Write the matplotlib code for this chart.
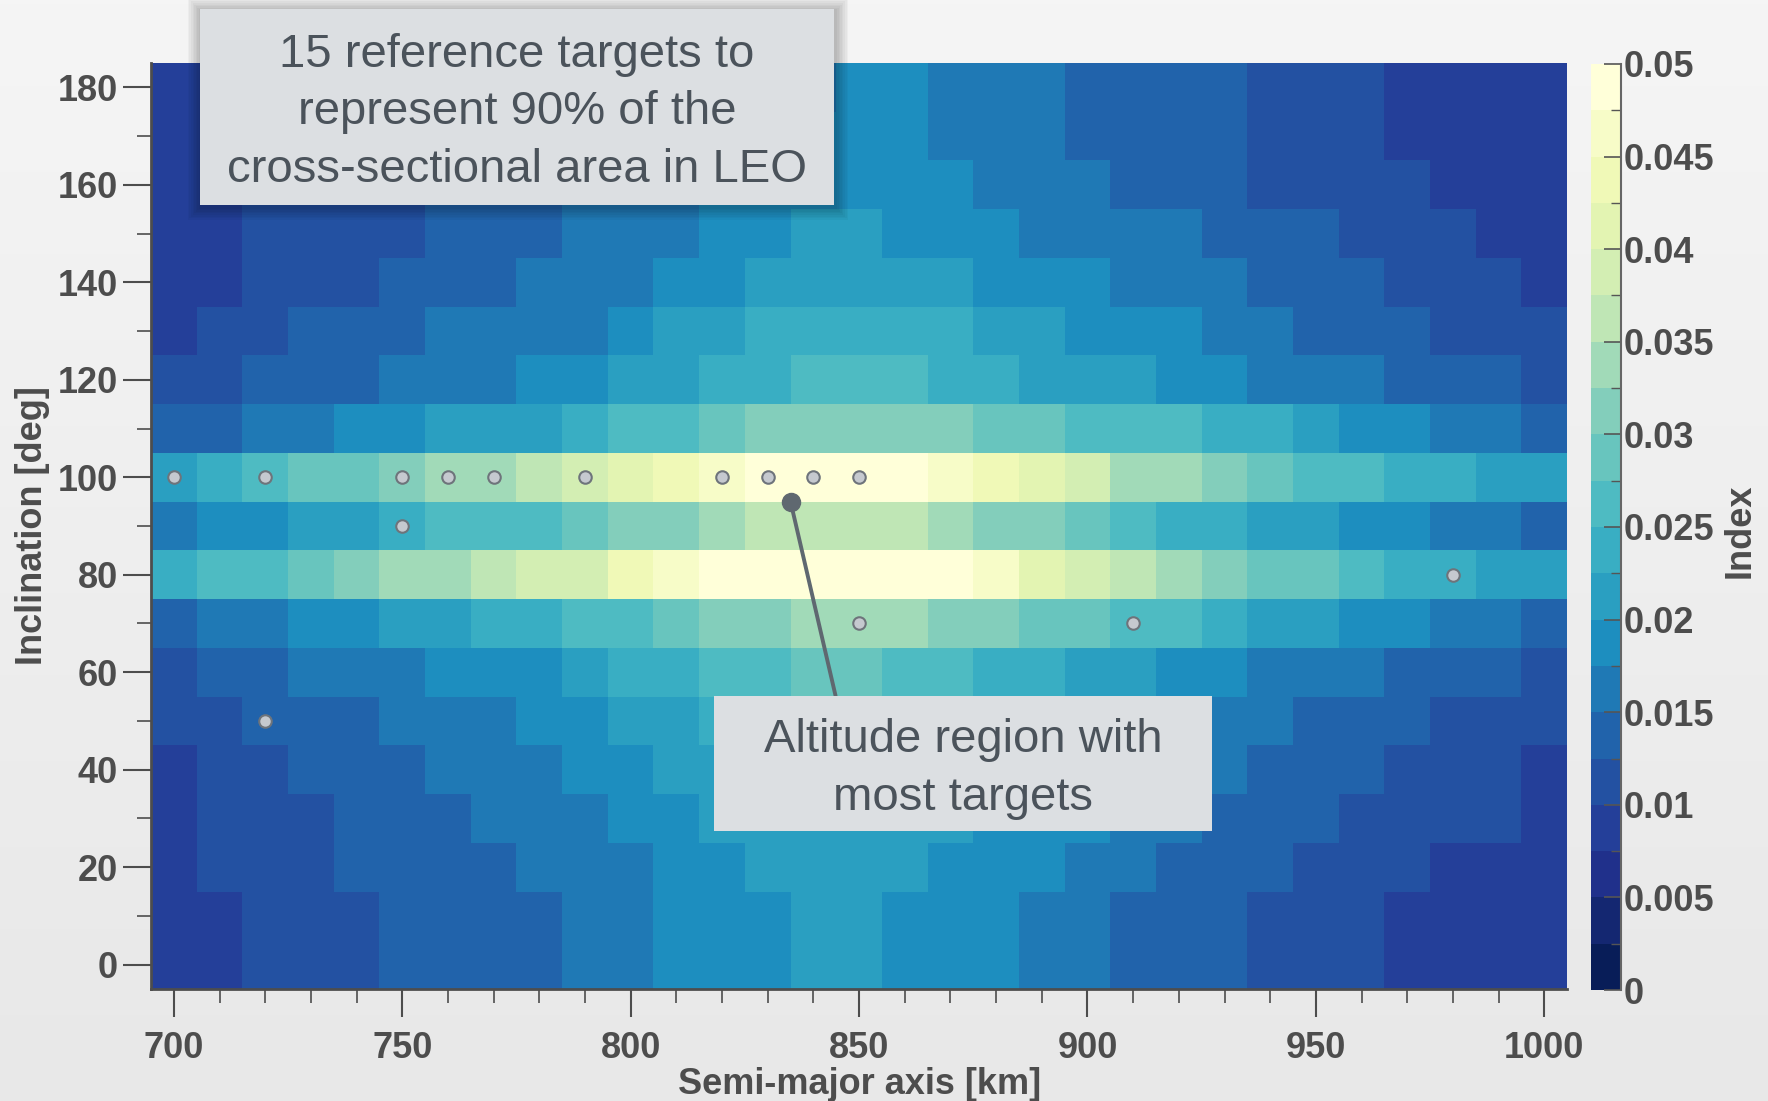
import numpy as np
import matplotlib
matplotlib.use("Agg")
import matplotlib.pyplot as plt
from matplotlib.colors import BoundaryNorm, LinearSegmentedColormap
from matplotlib.patches import Rectangle
from matplotlib.ticker import MultipleLocator, FuncFormatter

plt.rcParams["font.family"] = ["Liberation Sans", "DejaVu Sans"]
plt.rcParams["font.weight"] = "bold"
plt.rcParams["axes.labelweight"] = "bold"

# ---- data -------------------------------------------------------------
semi_major_axis_km = [700, 710, 720, 730, 740, 750, 760, 770, 780, 790, 800,
                      810, 820, 830, 840, 850, 860, 870, 880, 890, 900,
                      910, 920, 930, 940, 950, 960, 970, 980, 990, 1000]
inclination_deg = [0, 10, 20, 30, 40, 50, 60, 70, 80, 90,
                   100, 110, 120, 130, 140, 150, 160, 170, 180]

# index per cell, in units of 1e-3 (rows: inclination, columns: semi-major axis)
index_milli = [
    [8.8, 8.8, 11.2, 11.2, 11.2, 13.8, 13.8, 13.8, 13.8, 16.2, 16.2, 18.8, 18.8, 18.8, 21.2, 21.2, 18.8, 18.8, 18.8, 16.2, 16.2, 13.8, 13.8, 13.8, 11.2, 11.2, 11.2, 8.8, 8.8, 8.8, 8.8],
    [8.8, 8.8, 11.2, 11.2, 11.2, 13.8, 13.8, 13.8, 13.8, 16.2, 16.2, 18.8, 18.8, 18.8, 21.2, 21.2, 18.8, 18.8, 18.8, 16.2, 16.2, 13.8, 13.8, 13.8, 11.2, 11.2, 11.2, 8.8, 8.8, 8.8, 8.8],
    [8.8, 11.2, 11.2, 11.2, 13.8, 13.8, 13.8, 13.8, 16.2, 16.2, 16.2, 18.8, 18.8, 21.2, 21.2, 21.2, 21.2, 18.8, 18.8, 18.8, 16.2, 16.2, 13.8, 13.8, 13.8, 11.2, 11.2, 11.2, 8.8, 8.8, 8.8],
    [8.8, 11.2, 11.2, 11.2, 13.8, 13.8, 13.8, 16.2, 16.2, 16.2, 18.8, 18.8, 21.2, 21.2, 21.2, 21.2, 21.2, 21.2, 18.8, 18.8, 18.8, 16.2, 16.2, 13.8, 13.8, 13.8, 11.2, 11.2, 11.2, 11.2, 8.8],
    [8.8, 11.2, 11.2, 13.8, 13.8, 13.8, 16.2, 16.2, 16.2, 18.8, 18.8, 21.2, 21.2, 23.8, 23.8, 23.8, 23.8, 21.2, 21.2, 18.8, 18.8, 16.2, 16.2, 16.2, 13.8, 13.8, 13.8, 11.2, 11.2, 11.2, 8.8],
    [11.2, 11.2, 13.8, 13.8, 13.8, 16.2, 16.2, 16.2, 18.8, 18.8, 21.2, 21.2, 23.8, 23.8, 26.2, 26.2, 23.8, 23.8, 21.2, 21.2, 18.8, 18.8, 18.8, 16.2, 16.2, 13.8, 13.8, 13.8, 11.2, 11.2, 11.2],
    [11.2, 13.8, 13.8, 16.2, 16.2, 16.2, 18.8, 18.8, 18.8, 21.2, 23.8, 23.8, 26.2, 26.2, 28.8, 28.8, 26.2, 26.2, 23.8, 23.8, 21.2, 21.2, 18.8, 18.8, 16.2, 16.2, 16.2, 13.8, 13.8, 13.8, 11.2],
    [13.8, 16.2, 16.2, 18.8, 18.8, 21.2, 21.2, 23.8, 23.8, 26.2, 26.2, 28.8, 31.2, 31.2, 33.8, 33.8, 33.8, 31.2, 31.2, 28.8, 28.8, 26.2, 26.2, 23.8, 21.2, 21.2, 18.8, 18.8, 16.2, 16.2, 13.8],
    [23.8, 26.2, 26.2, 28.8, 31.2, 33.8, 33.8, 36.2, 38.8, 38.8, 43.8, 46.2, 48.8, 48.8, 48.8, 48.8, 48.8, 48.8, 46.2, 41.2, 38.8, 36.2, 33.8, 31.2, 28.8, 28.8, 26.2, 23.8, 23.8, 21.2, 21.2],
    [16.2, 18.8, 18.8, 21.2, 21.2, 23.8, 26.2, 26.2, 26.2, 28.8, 31.2, 31.2, 33.8, 36.2, 36.2, 36.2, 36.2, 33.8, 31.2, 31.2, 28.8, 26.2, 23.8, 23.8, 21.2, 21.2, 18.8, 18.8, 16.2, 16.2, 13.8],
    [21.2, 23.8, 26.2, 28.8, 28.8, 31.2, 33.8, 33.8, 36.2, 38.8, 41.2, 43.8, 46.2, 48.8, 48.8, 48.8, 48.8, 46.2, 43.8, 41.2, 38.8, 33.8, 33.8, 31.2, 28.8, 26.2, 26.2, 23.8, 23.8, 21.2, 21.2],
    [13.8, 13.8, 16.2, 16.2, 18.8, 18.8, 21.2, 21.2, 21.2, 23.8, 26.2, 26.2, 28.8, 31.2, 31.2, 31.2, 31.2, 31.2, 28.8, 28.8, 26.2, 26.2, 26.2, 23.8, 23.8, 21.2, 18.8, 18.8, 16.2, 16.2, 13.8],
    [11.2, 11.2, 13.8, 13.8, 13.8, 16.2, 16.2, 16.2, 18.8, 18.8, 21.2, 21.2, 23.8, 23.8, 26.2, 26.2, 26.2, 23.8, 23.8, 21.2, 21.2, 21.2, 18.8, 18.8, 16.2, 16.2, 16.2, 13.8, 13.8, 13.8, 11.2],
    [8.8, 11.2, 11.2, 13.8, 13.8, 13.8, 16.2, 16.2, 16.2, 16.2, 18.8, 21.2, 21.2, 23.8, 23.8, 23.8, 23.8, 23.8, 21.2, 21.2, 18.8, 18.8, 18.8, 16.2, 16.2, 13.8, 13.8, 13.8, 11.2, 11.2, 11.2],
    [8.8, 8.8, 11.2, 11.2, 11.2, 13.8, 13.8, 13.8, 16.2, 16.2, 16.2, 18.8, 18.8, 21.2, 21.2, 21.2, 21.2, 21.2, 18.8, 18.8, 18.8, 16.2, 16.2, 16.2, 13.8, 13.8, 13.8, 11.2, 11.2, 11.2, 8.8],
    [8.8, 8.8, 11.2, 11.2, 11.2, 11.2, 13.8, 13.8, 13.8, 16.2, 16.2, 16.2, 18.8, 18.8, 21.2, 21.2, 18.8, 18.8, 18.8, 16.2, 16.2, 16.2, 16.2, 13.8, 13.8, 13.8, 11.2, 11.2, 11.2, 8.8, 8.8],
    [8.8, 8.8, 11.2, 11.2, 11.2, 11.2, 13.8, 13.8, 13.8, 16.2, 16.2, 16.2, 18.8, 18.8, 18.8, 18.8, 18.8, 18.8, 16.2, 16.2, 16.2, 13.8, 13.8, 13.8, 11.2, 11.2, 11.2, 11.2, 8.8, 8.8, 8.8],
    [8.8, 8.8, 8.8, 11.2, 11.2, 11.2, 13.8, 13.8, 13.8, 13.8, 16.2, 16.2, 16.2, 16.2, 18.8, 18.8, 18.8, 16.2, 16.2, 16.2, 13.8, 13.8, 13.8, 13.8, 11.2, 11.2, 11.2, 8.8, 8.8, 8.8, 8.8],
    [8.8, 8.8, 8.8, 11.2, 11.2, 11.2, 11.2, 13.8, 13.8, 13.8, 13.8, 16.2, 16.2, 16.2, 16.2, 18.8, 18.8, 16.2, 16.2, 16.2, 13.8, 13.8, 13.8, 13.8, 11.2, 11.2, 11.2, 8.8, 8.8, 8.8, 8.8],
]

# the 15 reference targets
target_sma_km = [700, 720, 750, 760, 770, 790, 820, 830, 840, 850, 750, 980, 850, 910, 720]
target_inc_deg = [100, 100, 100, 100, 100, 100, 100, 100, 100, 100, 90, 80, 70, 70, 50]

# point highlighted by the lower callout
focus_sma_km = 835
focus_inc_deg = 95

index_levels = np.linspace(0.0, 0.05, 21)
index_ticks = np.linspace(0.0, 0.05, 11)

note_top = "15 reference targets to\nrepresent 90% of the\ncross-sectional area in LEO"
note_low = "Altitude region with\nmost targets"

# ---- styling ----------------------------------------------------------
TEXT = "#4d4d4d"
NOTE_TEXT = "#4b535b"
NOTE_FACE = "#dcdfe2"
LEADER = "#5f6870"
FS = 26

fig = plt.figure(figsize=(17.68, 11.01), dpi=100)

# soft grey backdrop, lighter at the top
bg = fig.add_axes([0, 0, 1, 1], zorder=-10)
bg_cmap = LinearSegmentedColormap.from_list("backdrop", ["#f5f5f5", "#e8e8e8"])
bg.imshow(np.linspace(0, 1, 256).reshape(-1, 1), aspect="auto", cmap=bg_cmap,
          extent=[0, 1, 0, 1], origin="upper")
bg.axis("off")

ax = fig.add_axes([0.0854, 0.1017, 0.8010, 0.8411])

cmap = plt.get_cmap("YlGnBu_r").resampled(20)
norm = BoundaryNorm(index_levels, cmap.N)
grid = np.array(index_milli) * 1e-3
mesh = ax.pcolormesh(semi_major_axis_km, inclination_deg, grid,
                     cmap=cmap, norm=norm, shading="nearest")
ax.set_xlim(695, 1005)
ax.set_ylim(-5, 185)

ax.plot(target_sma_km, target_inc_deg, "o", ls="none", ms=9,
        mfc="#c5c9cf", mec="#6e747b", mew=1.5, zorder=3)

ax.xaxis.set_major_locator(MultipleLocator(50))
ax.xaxis.set_minor_locator(MultipleLocator(10))
ax.yaxis.set_major_locator(MultipleLocator(20))
ax.yaxis.set_minor_locator(MultipleLocator(10))
ax.tick_params(which="major", direction="out", length=20, width=1.5,
               color=TEXT, labelsize=FS, labelcolor=TEXT)
ax.tick_params(which="minor", direction="out", length=10, width=1.2, color=TEXT)
ax.tick_params(axis="x", which="major", pad=10)
ax.tick_params(axis="y", which="major", pad=4)

for side in ("top", "right"):
    ax.spines[side].set_visible(False)
for side in ("left", "bottom"):
    ax.spines[side].set_linewidth(2)
    ax.spines[side].set_color(TEXT)

ax.set_xlabel("Semi-major axis [km]", fontsize=FS, fontweight="bold", color=TEXT)
ax.xaxis.set_label_coords(0.5, -0.084)
ax.set_ylabel("Inclination [deg]", fontsize=FS, fontweight="bold", color=TEXT)
ax.yaxis.set_label_coords(-0.071, 0.5)

# colour bar
cax = fig.add_axes([0.8999, 0.1008, 0.0170, 0.8411])
cb = fig.colorbar(mesh, cax=cax, ticks=index_ticks, boundaries=index_levels)
cb.outline.set_visible(False)
cax.yaxis.set_minor_locator(MultipleLocator(0.0025))
cax.yaxis.set_major_formatter(FuncFormatter(lambda v, p: f"{v:g}"))
cax.tick_params(which="major", direction="in", length=12, width=1.2,
                color="#555555", labelsize=FS, labelcolor=TEXT, pad=2)
cax.tick_params(which="minor", direction="in", length=7, width=1.0, color="#555555")
cax.plot([1, 1], [0, 1], transform=cax.transAxes, color="#666666", lw=1.5, clip_on=False)
fig.text(0.984, 0.518, "Index", rotation=90, ha="center", va="center",
         fontsize=FS, fontweight="bold", color=TEXT)


def callout(x0, y0, w, h, text, cy, shadow=False):
    if shadow:
        for i in range(1, 9):
            gx, gy = 1.6 * i / 1768, 1.6 * i / 1101
            fig.add_artist(Rectangle((x0 - gx + 1 / 1768, y0 - gy - 2 / 1101),
                                     w + 2 * gx, h + 2 * gy, transform=fig.transFigure,
                                     facecolor="black", edgecolor="none",
                                     alpha=0.03, zorder=9))
    fig.add_artist(Rectangle((x0, y0), w, h, transform=fig.transFigure,
                             facecolor=NOTE_FACE, edgecolor="none", zorder=10))
    fig.text(x0 + w / 2, cy, text, ha="center", va="center", fontsize=34,
             fontweight="normal", color=NOTE_TEXT, linespacing=1.39, zorder=11)


callout(0.1129, 0.8138, 0.3591, 0.1780, note_top, 0.8980, shadow=True)
callout(0.4038, 0.2452, 0.2817, 0.1226, note_low, 0.3015)

ax.annotate("", xy=(focus_sma_km, focus_inc_deg), xycoords="data",
            xytext=(0.4726, 0.3681), textcoords="figure fraction",
            arrowprops=dict(arrowstyle="-", color=LEADER, lw=2.8,
                            shrinkA=0, shrinkB=0), zorder=4)
ax.plot([focus_sma_km], [focus_inc_deg], "o", ms=13, color=LEADER, zorder=5)

fig.savefig("out.png", dpi=100)
